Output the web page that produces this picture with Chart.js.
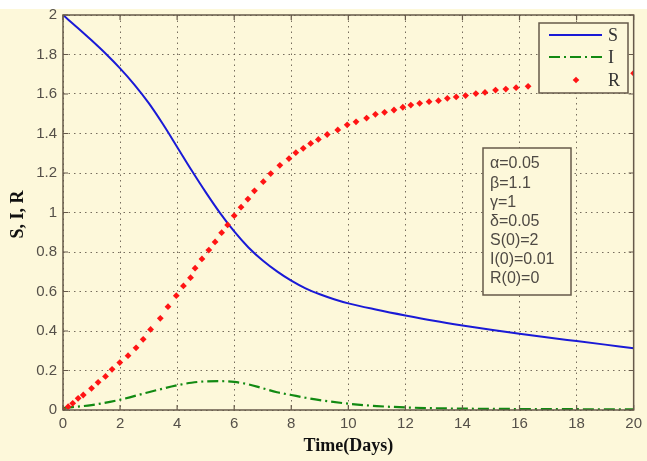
<!DOCTYPE html>
<html>
<head>
<meta charset="utf-8">
<script src="https://cdn.jsdelivr.net/npm/chart.js@4.4.1/dist/chart.umd.min.js"></script>
<style>
html,body{margin:0;padding:0;background:#fdf8da;}
#wrap{width:647px;height:461px;position:relative;}
</style>
</head>
<body>
<div id="wrap"><canvas id="c" width="647" height="461"></canvas></div>
<script>
// ---- data ----
const xTicks = [0, 2, 4, 6, 8, 10, 12, 14, 16, 18, 20];
const yTicks = [0, 0.2, 0.4, 0.6, 0.8, 1, 1.2, 1.4, 1.6, 1.8, 2];

const sTime   = [0, 0.5, 1, 1.5, 2, 2.5, 3, 3.5, 4, 4.5, 5, 5.5, 6, 6.5, 7, 7.5, 8, 8.5, 9, 9.5, 10, 11, 12, 13, 14, 15, 16, 17, 18, 19, 20];
const sValues = [2.0, 1.937, 1.872, 1.804, 1.730, 1.648, 1.555, 1.448, 1.332, 1.215, 1.103, 0.998, 0.904, 0.823, 0.757, 0.702, 0.655, 0.616, 0.586, 0.561, 0.540, 0.508, 0.479, 0.452, 0.428, 0.406, 0.386, 0.367, 0.349, 0.331, 0.313];

const iTime   = [0, 1, 2, 3, 4, 4.5, 5, 5.5, 6, 6.5, 7, 7.5, 8, 8.5, 9, 10, 11, 12, 13, 14, 16, 18, 20];
const iValues = [0.01, 0.025, 0.052, 0.09, 0.125, 0.138, 0.145, 0.146, 0.142, 0.13, 0.11, 0.09, 0.076, 0.062, 0.05, 0.032, 0.02, 0.013, 0.009, 0.007, 0.005, 0.004, 0.003];

const rTime   = [0, 0.18, 0.34, 0.53, 0.71, 1.0, 1.23, 1.49, 1.72, 1.99, 2.28, 2.56, 2.81, 3.07, 3.41, 3.68, 3.97, 4.22,
                 4.47, 4.63, 4.87, 5.11, 5.33, 5.56, 5.77, 6.0, 6.24, 6.48, 6.71, 7.02, 7.28, 7.60, 7.92, 8.16, 8.42,
                 8.68, 8.95, 9.26, 9.63, 9.96, 10.27, 10.64, 10.95, 11.27, 11.60, 11.91, 12.19, 12.50, 12.83, 13.16,
                 13.47, 13.78, 14.11, 14.47, 14.79, 15.16, 15.52, 15.88, 16.30, 16.8, 17.4, 18.0, 18.6, 19.2, 20];
const rValues = [0, 0.017, 0.034, 0.059, 0.076, 0.11, 0.14, 0.17, 0.206, 0.24, 0.275, 0.315, 0.358, 0.408, 0.464, 0.523, 0.579, 0.628,
                 0.67, 0.718, 0.765, 0.81, 0.851, 0.898, 0.937, 0.984, 1.027, 1.068, 1.11, 1.156, 1.197, 1.239, 1.273, 1.303, 1.325,
                 1.350, 1.370, 1.395, 1.418, 1.444, 1.459, 1.478, 1.497, 1.507, 1.519, 1.533, 1.544, 1.553, 1.561, 1.566,
                 1.578, 1.585, 1.592, 1.602, 1.608, 1.620, 1.625, 1.632, 1.639, 1.648, 1.660, 1.672, 1.683, 1.693, 1.705];

const seriesNames = ['S', 'I', 'R'];
const paramLines = ['\u03b1=0.05', '\u03b2=1.1', '\u03b3=1', '\u03b4=0.05', 'S(0)=2', 'I(0)=0.01', 'R(0)=0'];
const xTitle = 'Time(Days)';
const yTitle = 'S, I, R';

// ---- styles ----
const CREAM = '#fdf8da';
const FRAME = '#66594a';
const GRID = 'rgba(95,85,70,0.85)';
const TICKTXT = '#555049';
const BLUE = '#1a1ad6';
const GREEN = '#128a12';
const RED = '#ff1414';
const IDASH = [11, 4, 2, 4];

const toPts = (xs, ys) => xs.map((x, k) => ({x: x, y: ys[k]}));

const bgPlugin = {
  id: 'bg',
  beforeDraw(chart) {
    const ctx = chart.ctx;
    ctx.save();
    ctx.fillStyle = CREAM;
    ctx.fillRect(0, 0, chart.width, chart.height);
    ctx.fillStyle = '#ffffff';
    ctx.fillRect(0, 0, chart.width, 9);
    ctx.restore();
  }
};

const framePlugin = {
  id: 'frame',
  afterDatasetsDraw(chart) {
    const ctx = chart.ctx;
    const a = chart.chartArea;
    const xs = chart.scales.x, ys = chart.scales.y;
    ctx.save();
    ctx.strokeStyle = FRAME;
    ctx.lineWidth = 1.5;
    ctx.strokeRect(a.left, a.top, a.right - a.left, a.bottom - a.top);
    ctx.lineWidth = 1.2;
    ctx.beginPath();
    xTicks.forEach(v => {
      const px = xs.getPixelForValue(v);
      ctx.moveTo(px, a.bottom); ctx.lineTo(px, a.bottom - 5);
      ctx.moveTo(px, a.top); ctx.lineTo(px, a.top + 5);
    });
    yTicks.forEach(v => {
      const py = ys.getPixelForValue(v);
      ctx.moveTo(a.left, py); ctx.lineTo(a.left + 5, py);
      ctx.moveTo(a.right, py); ctx.lineTo(a.right - 5, py);
    });
    ctx.stroke();

    // legend box
    const lx = 539, ly = 23, lw = 89, lh = 70;
    ctx.fillStyle = CREAM;
    ctx.fillRect(lx, ly, lw, lh);
    ctx.strokeStyle = FRAME;
    ctx.lineWidth = 1.5;
    ctx.strokeRect(lx, ly, lw, lh);
    const rowsY = [35, 57, 80];
    ctx.strokeStyle = BLUE; ctx.lineWidth = 2; ctx.setLineDash([]);
    ctx.beginPath(); ctx.moveTo(549, rowsY[0]); ctx.lineTo(602, rowsY[0]); ctx.stroke();
    ctx.strokeStyle = GREEN; ctx.setLineDash(IDASH);
    ctx.beginPath(); ctx.moveTo(549, rowsY[1]); ctx.lineTo(602, rowsY[1]); ctx.stroke();
    ctx.setLineDash([]);
    ctx.fillStyle = RED;
    ctx.beginPath();
    const mx = 576, my = rowsY[2], r = 3.3;
    ctx.moveTo(mx, my - r); ctx.lineTo(mx + r, my); ctx.lineTo(mx, my + r); ctx.lineTo(mx - r, my); ctx.closePath();
    ctx.fill();
    ctx.fillStyle = '#333';
    ctx.font = '18px "Liberation Serif", serif';
    ctx.textBaseline = 'middle';
    ctx.textAlign = 'left';
    seriesNames.forEach((n, k) => ctx.fillText(n, 608, rowsY[k] + 1));

    // parameter box
    const bx = 483, by = 148, bw = 88, bh = 147;
    ctx.fillStyle = CREAM;
    ctx.fillRect(bx, by, bw, bh);
    ctx.strokeStyle = FRAME;
    ctx.lineWidth = 1.5;
    ctx.strokeRect(bx, by, bw, bh);
    ctx.fillStyle = '#4f4a44';
    ctx.font = '16px "Liberation Sans", Arial, sans-serif';
    paramLines.forEach((t, k) => ctx.fillText(t, 490, 164 + k * 19.1));

    // axis titles
    ctx.fillStyle = '#111';
    ctx.font = 'bold 18px "Liberation Serif", serif';
    ctx.textAlign = 'center';
    ctx.fillText(xTitle, (a.left + a.right) / 2, 446);
    ctx.save();
    ctx.translate(18, (a.top + a.bottom) / 2 + 2);
    ctx.rotate(-Math.PI / 2);
    ctx.fillText(yTitle, 0, 0);
    ctx.restore();
    ctx.restore();
  }
};

const gridOpts = {
  color: GRID,
  lineWidth: 1,
  drawTicks: false,
  tickLength: 0
};

new Chart(document.getElementById('c'), {
  type: 'scatter',
  data: {
    datasets: [
      {
        label: seriesNames[0],
        data: toPts(sTime, sValues),
        showLine: true,
        borderColor: BLUE,
        borderWidth: 2,
        pointRadius: 0,
        cubicInterpolationMode: 'monotone',
        order: 2
      },
      {
        label: seriesNames[1],
        data: toPts(iTime, iValues),
        showLine: true,
        borderColor: GREEN,
        borderWidth: 2.2,
        borderDash: IDASH,
        pointRadius: 0,
        cubicInterpolationMode: 'monotone',
        order: 3
      },
      {
        label: seriesNames[2],
        data: toPts(rTime, rValues),
        showLine: false,
        pointStyle: 'rectRot',
        pointRadius: 3.4,
        pointBorderWidth: 0,
        backgroundColor: RED,
        borderColor: RED,
        order: 1
      }
    ]
  },
  options: {
    responsive: false,
    animation: false,
    events: [],
    layout: {padding: {top: 15, right: 13, left: 0, bottom: 0}},
    plugins: {legend: {display: false}, tooltip: {enabled: false}},
    scales: {
      x: {
        type: 'linear',
        min: 0, max: 20,
        afterBuildTicks: s => { s.ticks = xTicks.map(v => ({value: v})); },
        afterFit: s => { s.height = 51; },
        grid: Object.assign({}, gridOpts),
        border: {display: false, dash: [1.5, 4]},
        ticks: {
          color: TICKTXT,
          font: {family: '"Liberation Sans", Arial, sans-serif', size: 15},
          padding: 5,
          maxRotation: 0,
          callback: v => String(v)
        }
      },
      y: {
        type: 'linear',
        min: 0, max: 2,
        afterBuildTicks: s => { s.ticks = yTicks.map(v => ({value: v})); },
        afterFit: s => { s.width = 63; },
        grid: Object.assign({}, gridOpts),
        border: {display: false, dash: [1.5, 4]},
        ticks: {
          color: TICKTXT,
          font: {family: '"Liberation Sans", Arial, sans-serif', size: 15},
          padding: 6,
          callback: v => String(Math.round(v * 10) / 10)
        }
      }
    }
  },
  plugins: [bgPlugin, framePlugin]
});
</script>
</body>
</html>
